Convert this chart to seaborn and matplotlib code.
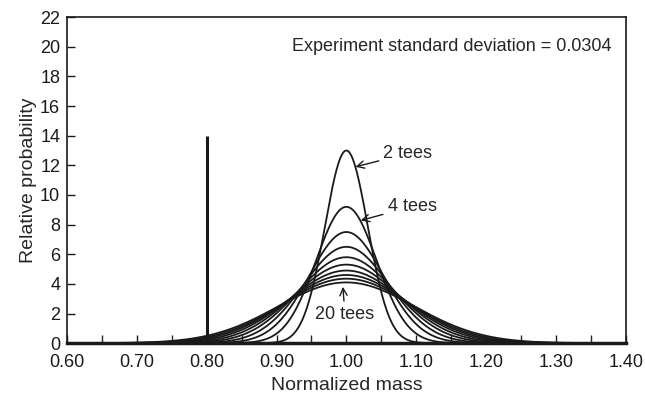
import numpy as np
import pandas as pd
import matplotlib
matplotlib.use('Agg')
import matplotlib.pyplot as plt
import seaborn as sns
from matplotlib.ticker import MultipleLocator

# values
tees = [2, 4, 6, 8, 10, 12, 14, 16, 18, 20]
peak_heights = [13.0, 9.2, 7.5, 6.5, 5.8, 5.3, 4.9, 4.6, 4.35, 4.1]
center = 1.0
spike_x = 0.80
spike_height = 14.0

sns.set_style('ticks')
plt.rcParams['font.family'] = ['Liberation Sans', 'DejaVu Sans']

mass = np.linspace(0.60, 1.40, 801)
rows = []
for n, pk in zip(tees, peak_heights):
    sd = 1.0 / (pk * np.sqrt(2 * np.pi))
    dens = pk * np.exp(-0.5 * ((mass - center) / sd) ** 2)
    rows.append(pd.DataFrame({'mass': mass, 'prob': dens, 'tees': n}))
df = pd.concat(rows, ignore_index=True)

fig = plt.figure(figsize=(6.45, 3.99), dpi=100)
ax = fig.add_axes([0.104, 0.140, 0.866, 0.817])

sns.lineplot(data=df, x='mass', y='prob', units='tees', estimator=None,
             color='#1a1a1a', lw=1.3, ax=ax, legend=False)
ax.vlines(spike_x, 0, spike_height, color='#1a1a1a', lw=2.2)

ax.set_xlim(0.60, 1.40)
ax.set_ylim(0, 22)
ax.xaxis.set_major_locator(MultipleLocator(0.10))
ax.xaxis.set_minor_locator(MultipleLocator(0.05))
ax.yaxis.set_major_locator(MultipleLocator(2))
ax.xaxis.set_major_formatter(plt.FuncFormatter(lambda v, p: f'{v:.2f}'))
ax.tick_params(direction='in', length=6, width=1, labelsize=13, colors='#1a1a1a')
ax.tick_params(which='minor', direction='in', length=6, width=1)
ax.tick_params(axis='x', pad=8)
ax.tick_params(axis='y', pad=5)
for s in ax.spines.values():
    s.set_color('#1a1a1a')
    s.set_linewidth(1.2)
ax.spines['bottom'].set_linewidth(2.5)

ax.set_xlabel('Normalized mass', fontsize=14, labelpad=4)
ax.set_ylabel('Relative probability', fontsize=14, labelpad=2)

ax.text(1.380, 20.0, 'Experiment standard deviation = 0.0304', ha='right', va='center', fontsize=13)

arrow = dict(arrowstyle='->', color='#1a1a1a', lw=1, shrinkA=1, shrinkB=0)
ax.annotate('2 tees', xy=(1.013, 11.9), xytext=(1.053, 12.8), va='center', ha='left',
            fontsize=13, arrowprops=arrow)
ax.annotate('4 tees', xy=(1.0205, 8.28), xytext=(1.059, 9.22), va='center', ha='left',
            fontsize=13, arrowprops=arrow)
ax.annotate('20 tees', xy=(0.995, 3.8), xytext=(0.998, 1.95), va='center', ha='center',
            fontsize=13, arrowprops=arrow)

fig.savefig('out.png', dpi=100)
